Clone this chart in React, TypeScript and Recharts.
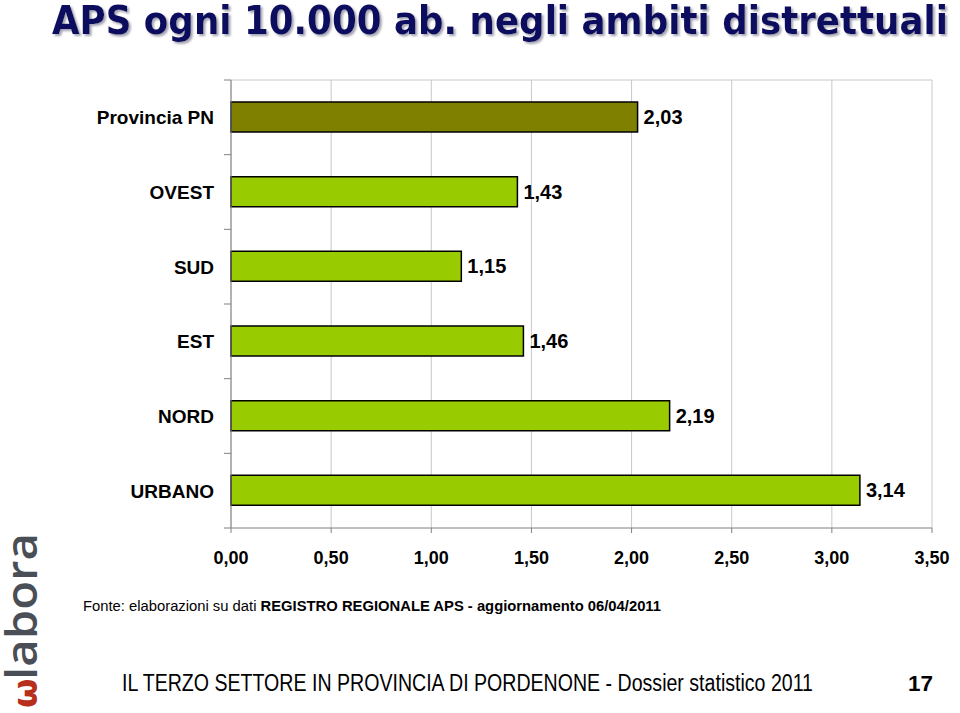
import React from "react"
import { Bar, BarChart, CartesianGrid, Cell, LabelList, XAxis, YAxis } from "recharts"

const districts = ["Provincia PN", "OVEST", "SUD", "EST", "NORD", "URBANO"]
const apsPer10k = [2.03, 1.43, 1.15, 1.46, 2.19, 3.14]
const xTicks = [0, 0.5, 1, 1.5, 2, 2.5, 3, 3.5]

const data = districts.map((name, i) => ({ name, value: apsPer10k[i] }))

const PLOT_LEFT = 231
const PLOT_TOP = 80
const PLOT_BOTTOM = 528
const BAND = (PLOT_BOTTOM - PLOT_TOP) / districts.length
const FONT = "Arial, 'Liberation Sans', sans-serif"

const fmt = (v: number) => v.toFixed(2).replace(".", ",")

function CategoryTick(props: any) {
  const { y, payload, index } = props
  const top = y - BAND / 2
  return (
    <g>
      <line x1={PLOT_LEFT - 7} x2={PLOT_LEFT} y1={top} y2={top} stroke="#808080" />
      {index === districts.length - 1 && (
        <line x1={PLOT_LEFT - 7} x2={PLOT_LEFT} y1={top + BAND} y2={top + BAND} stroke="#808080" />
      )}
      <text
        x={PLOT_LEFT - 17}
        y={y}
        dy="0.36em"
        textAnchor="end"
        fontFamily={FONT}
        fontWeight="bold"
        fontSize={19}
        fill="#000"
      >
        {payload.value}
      </text>
    </g>
  )
}

export default function App() {
  return (
    <div style={{ position: "absolute", left: 0, top: 0, width: 960, height: 713, background: "#fff", overflow: "hidden" }}>
      <svg width={960} height={713} style={{ position: "absolute", left: 0, top: 0 }}>
        <defs>
          <filter id="titleShadow" x="-5%" y="-20%" width="110%" height="150%">
            <feDropShadow dx={2} dy={2} stdDeviation={0.8} floodColor="#8c8ca0" floodOpacity={0.8} />
          </filter>
        </defs>
        <text
          x={52}
          y={34}
          textLength={896}
          lengthAdjust="spacingAndGlyphs"
          fontFamily="Tahoma, 'DejaVu Sans', sans-serif"
          fontWeight="bold"
          fontSize={39}
          fill="#0e0e60"
          filter="url(#titleShadow)"
        >
          APS ogni 10.000 ab. negli ambiti distrettuali
        </text>

        <g transform="translate(37, 680) rotate(-90)">
          <text
            x={0}
            y={0}
            textLength={147}
            lengthAdjust="spacingAndGlyphs"
            fontFamily="'Open Sans', 'DejaVu Sans', sans-serif"
            fontWeight={600}
            fontSize={44}
            fill="#4a4e56"
          >
            labora
          </text>
        </g>
        <g transform="translate(37, 708) rotate(-90)">
          <text x={0} y={0} fontFamily="'DejaVu Sans', sans-serif" fontWeight="bold" fontSize={34} fill="#b8301c">
            ω
          </text>
        </g>

        <text
          x={83}
          y={611}
          textLength={578}
          lengthAdjust="spacingAndGlyphs"
          fontFamily={FONT}
          fontSize={14}
          fill="#000"
        >
          Fonte: elaborazioni su dati <tspan fontWeight="bold">REGISTRO REGIONALE APS - aggiornamento 06/04/2011</tspan>
        </text>

        <text
          x={122}
          y={691}
          textLength={691}
          lengthAdjust="spacingAndGlyphs"
          fontFamily="'Liberation Sans Narrow', 'Arial Narrow', Arial, sans-serif"
          fontSize={23}
          fill="#000"
        >
          IL TERZO SETTORE IN PROVINCIA DI PORDENONE - Dossier statistico 2011
        </text>
        <text
          x={908}
          y={691}
          textLength={25}
          lengthAdjust="spacingAndGlyphs"
          fontFamily="'Liberation Sans Narrow', Arial, sans-serif"
          fontWeight="bold"
          fontSize={22}
          fill="#000"
        >
          17
        </text>
      </svg>

      <div style={{ position: "absolute", left: 0, top: 0 }}>
        <BarChart
          width={960}
          height={713}
          data={data}
          layout="vertical"
          margin={{ top: PLOT_TOP, right: 28, left: 0, bottom: 713 - PLOT_BOTTOM - 40 }}
        >
          <CartesianGrid
            stroke="#c8c8c8"
            vertical
            horizontal
            horizontalPoints={[PLOT_TOP]}
          />
          <XAxis
            type="number"
            domain={[0, 3.5]}
            ticks={xTicks}
            tickFormatter={fmt}
            height={40}
            stroke="#808080"
            tickSize={5}
            tickMargin={18}
            tick={{ fill: "#000", fontSize: 18, fontWeight: "bold", fontFamily: FONT }}
          />
          <YAxis
            type="category"
            dataKey="name"
            width={PLOT_LEFT}
            stroke="#808080"
            tickLine={false}
            tick={<CategoryTick />}
            interval={0}
          />
          <Bar dataKey="value" barSize={30} stroke="#000" strokeWidth={1.5} isAnimationActive={false}>
            {data.map((d, i) => (
              <Cell key={d.name} fill={i === 0 ? "#808000" : "#99cc00"} />
            ))}
            <LabelList
              dataKey="value"
              position="right"
              offset={6}
              formatter={(v: any) => fmt(Number(v))}
              fill="#000"
              fontSize={20}
              fontWeight="bold"
              fontFamily={FONT}
            />
          </Bar>
        </BarChart>
      </div>
    </div>
  )
}
